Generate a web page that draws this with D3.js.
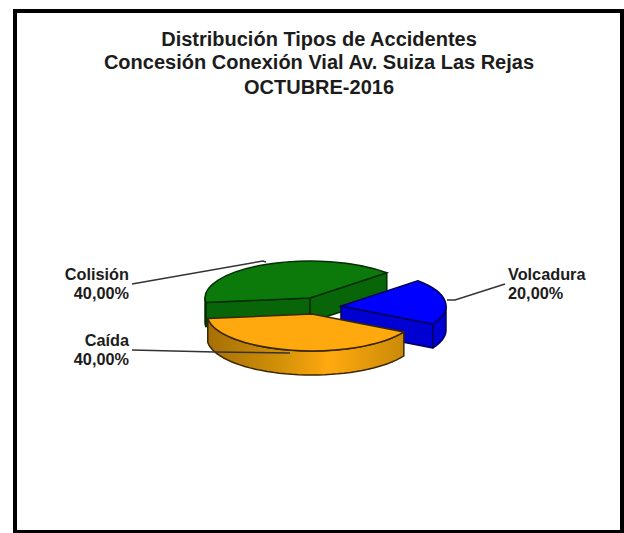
<!DOCTYPE html>
<html>
<head>
<meta charset="utf-8">
<script src="https://cdn.jsdelivr.net/npm/d3@7"></script>
<style>
    body { margin: 0; background: #fff; }
    text { font-family: "Liberation Sans", Arial, sans-serif; font-weight: bold; fill: #1c1c1c; }
</style>
</head>
<body>
<div id="chart"></div>
<script>
var titleLines = ["Distribución Tipos de Accidentes", "Concesión Conexión Vial Av. Suiza Las Rejas", "OCTUBRE-2016"];
var categories = ["Volcadura", "Caída", "Colisión"];
var values = [20, 40, 40];

var width = 624;
var height = 533;
var rx = 105;
var ry = 37;
var depth = 24;

// per slice drawing settings, same order as categories
var centers = [[341, 306], [312, 314], [310, 298]];
var topColors = ["#0000ff", "#ffa90f", "#0b7a0b"];
var wallColors = ["#0000d2", "#c98a08", "#086608"];
var lineColors = ["#00005a", "#3a2600", "#032e03"];

var svg = d3.select("#chart").append("svg")
    .attr("width", width)
    .attr("height", height)
    .style("display", "block");

svg.append("rect")
    .attr("x", 15)
    .attr("y", 11)
    .attr("width", 607)
    .attr("height", 521)
    .attr("fill", "#fff")
    .attr("stroke", "#000")
    .attr("stroke-width", 4);

// title
svg.selectAll(".title")
    .data(titleLines)
    .enter().append("text")
    .attr("class", "title")
    .attr("x", 319)
    .attr("y", function (d, i) { return [46, 69, 94][i]; })
    .attr("text-anchor", "middle")
    .style("font-size", "20px")
    .text(function (d) { return d; });

// orange wall gets the shiny cylinder look
var defs = svg.append("defs");
var grad = defs.append("linearGradient")
    .attr("id", "wall-orange")
    .attr("x1", "0%").attr("x2", "100%")
    .attr("y1", "0%").attr("y2", "0%");
grad.append("stop").attr("offset", "0%").attr("stop-color", "#a56f05");
grad.append("stop").attr("offset", "35%").attr("stop-color", "#d08f08");
grad.append("stop").attr("offset", "62%").attr("stop-color", "#ffa90f");
grad.append("stop").attr("offset", "100%").attr("stop-color", "#c98a08");

var pie = d3.pie()
    .sort(null)
    .startAngle(47 * Math.PI / 180)
    .endAngle(407 * Math.PI / 180);

var arcs = pie(values);

var arc = d3.arc()
    .innerRadius(0)
    .outerRadius(rx);

function px(i, a) { return centers[i][0] + rx * Math.sin(a); }
function py(i, a) { return centers[i][1] - ry * Math.cos(a); }

// path of the rim between two angles, pushed down by dy
function rim(i, a0, a1, dy) {
    var pts = d3.range(0, 41).map(function (k) {
        var a = a0 + (a1 - a0) * k / 40;
        return [px(i, a), py(i, a) + dy];
    });
    return pts;
}

// outer wall only shows on the front half of the ellipse
function wallPath(i, a0, a1) {
    var top = rim(i, a0, a1, 0);
    var bottom = rim(i, a0, a1, depth).reverse();
    return d3.line()(top.concat(bottom)) + "Z";
}

// flat cut face running from the slice apex to a rim point
function facePath(i, a) {
    var c = centers[i];
    var p = [px(i, a), py(i, a)];
    return d3.line()([c, p, [p[0], p[1] + depth], [c[0], c[1] + depth]]) + "Z";
}

function drawSlice(i) {
    var d = arcs[i];
    var g = svg.append("g").attr("class", "slice");
    var wallFill = i === 1 ? "url(#wall-orange)" : wallColors[i];
    var a0 = Math.max(d.startAngle, Math.PI / 2);
    var a1 = Math.min(d.endAngle, 3 * Math.PI / 2);

    if (i === 0) g.append("path").attr("d", facePath(i, d.endAngle));
    if (i === 2) {
        g.append("path").attr("d", facePath(i, d.startAngle));
        g.append("path").attr("d", facePath(i, d.endAngle));
    }
    g.append("path").attr("d", wallPath(i, a0, a1));
    g.selectAll("path")
        .attr("fill", wallFill)
        .attr("stroke", lineColors[i])
        .attr("stroke-width", 1.5)
        .attr("stroke-linejoin", "round");

    g.append("path")
        .attr("d", arc(d))
        .attr("transform", "translate(" + centers[i][0] + "," + centers[i][1] + ") scale(1," + (ry / rx) + ")")
        .attr("fill", topColors[i])
        .attr("stroke", lineColors[i])
        .attr("stroke-width", 1.5)
        .attr("vector-effect", "non-scaling-stroke");
}

// back to front
drawSlice(2);
drawSlice(0);
drawSlice(1);

// leader lines
var leaders = [
    [[505, 284], [455, 300], [447, 300]],
    [[132, 350], [215, 352], [290, 353]],
    [[132, 284], [263, 261], [266, 262]]
];
var labelAnchor = [[508, "start", 280], [129, "end", 346], [129, "end", 280]];
var percent = d3.formatLocale({ decimal: ",", thousands: ".", grouping: [3], currency: ["", ""] }).format(".2f");

arcs.forEach(function (d, i) {
    svg.append("path")
        .attr("d", d3.line()(leaders[i]))
        .attr("fill", "none")
        .attr("stroke", "#333")
        .attr("stroke-width", 1.5);

    var t = svg.append("text")
        .attr("text-anchor", labelAnchor[i][1])
        .style("font-size", "16.3px");
    t.append("tspan")
        .attr("x", labelAnchor[i][0])
        .attr("y", labelAnchor[i][2])
        .text(categories[i]);
    t.append("tspan")
        .attr("x", labelAnchor[i][0])
        .attr("y", labelAnchor[i][2] + 19)
        .text(percent(values[i]) + "%");
});
</script>
</body>
</html>
